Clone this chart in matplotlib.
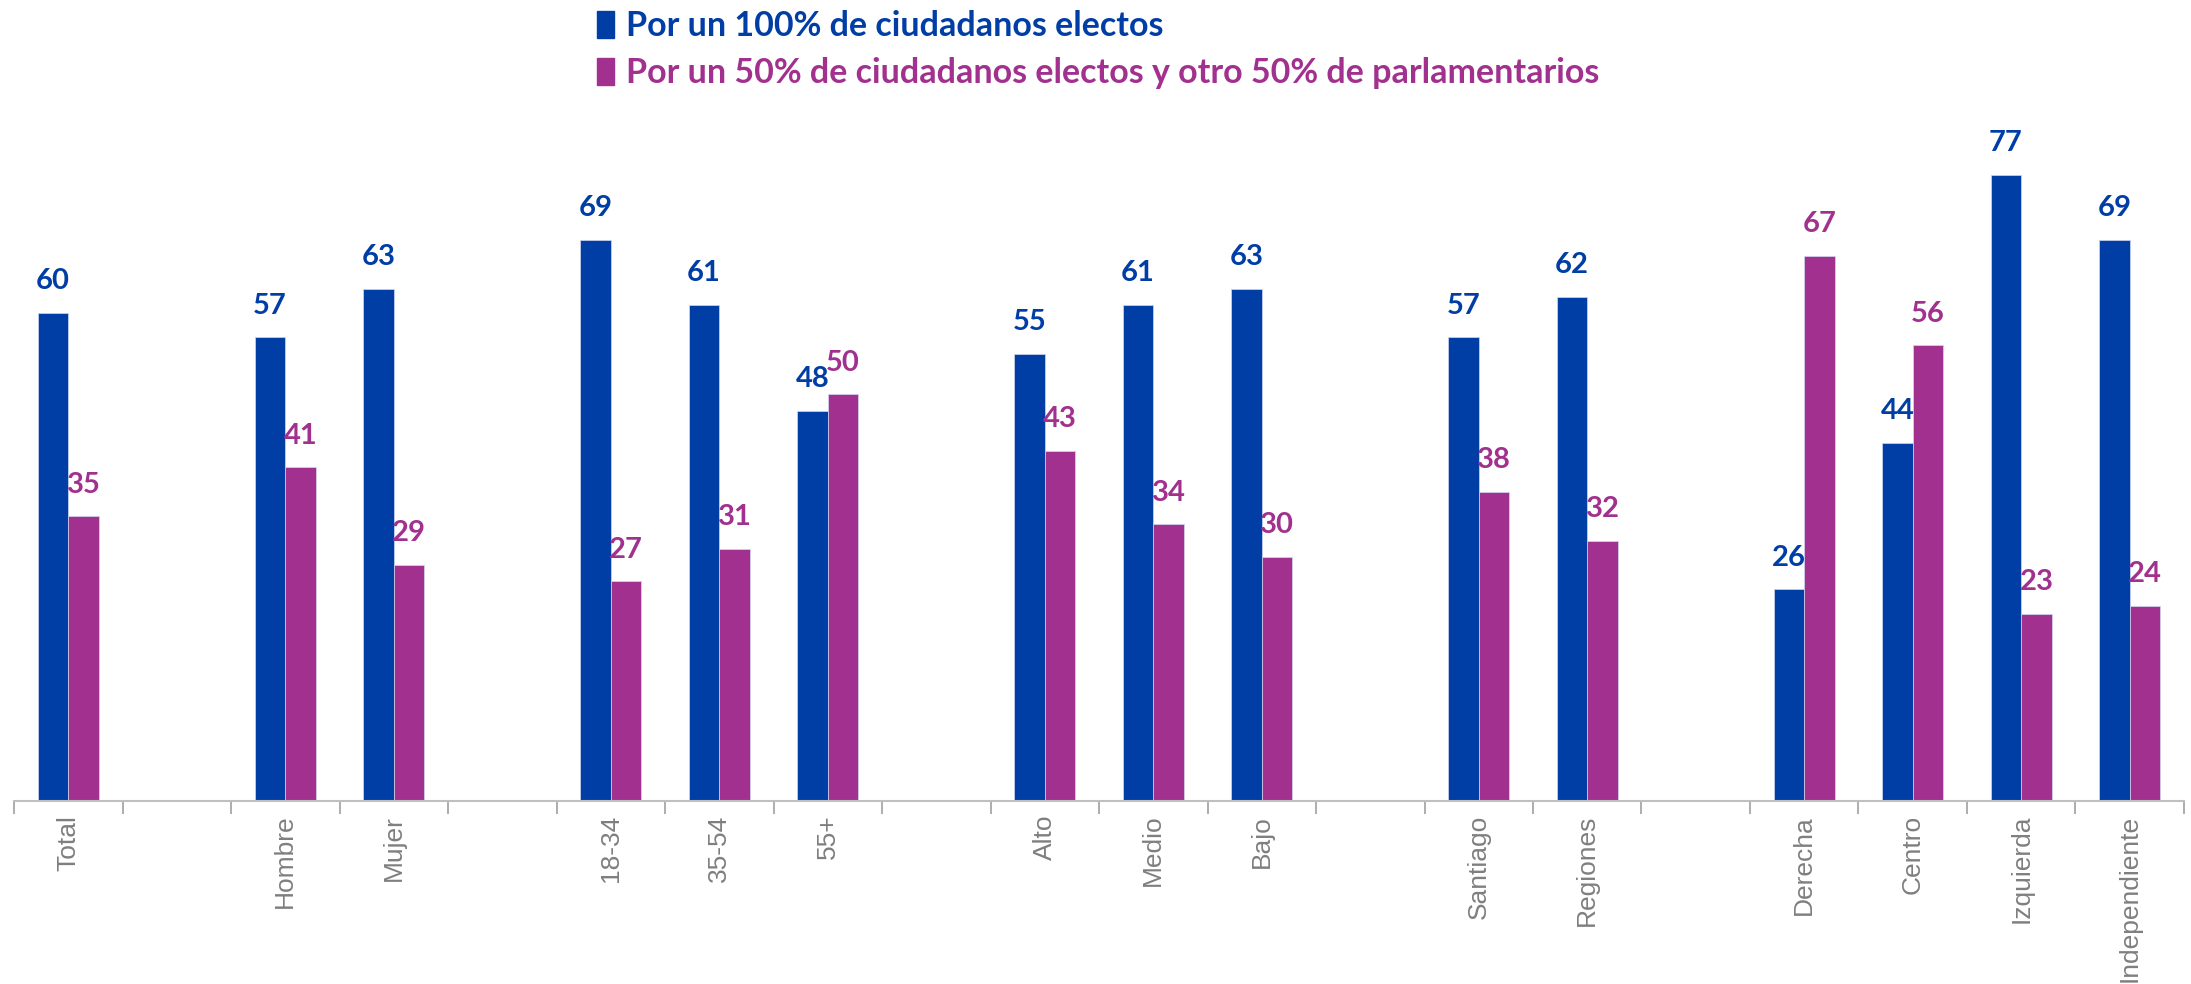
"""Recreación del gráfico de barras agrupadas (100% vs 50/50)."""

import numpy as np
import matplotlib
matplotlib.use("Agg")
import matplotlib.pyplot as plt
from matplotlib.patches import Patch

# categorías; "" = hueco entre grupos
categorias = ["Total", "", "Hombre", "Mujer", "", "18-34", "35-54", "55+", "",
              "Alto", "Medio", "Bajo", "", "Santiago", "Regiones", "",
              "Derecha", "Centro", "Izquierda", "Independiente"]
cien_pct = [60, None, 57, 63, None, 69, 61, 48, None, 55, 61, 63, None,
            57, 62, None, 26, 44, 77, 69]
mitad_pct = [35, None, 41, 29, None, 27, 31, 50, None, 43, 34, 30, None,
             38, 32, None, 67, 56, 23, 24]
series_labels = ["Por un 100% de ciudadanos electos",
                 "Por un 50% de ciudadanos electos y otro 50% de parlamentarios"]

AZUL = "#003EA6"
MORADO = "#A1308E"
GRIS = "#7F7F7F"

fig = plt.figure(figsize=(21.91, 9.84), dpi=100)
ax = fig.add_axes([0.0064, 0.186, 0.9904, 0.744])

x = np.arange(len(categorias))
w = 0.283
for vals, off, col in [(cien_pct, -w / 2, AZUL), (mitad_pct, w / 2, MORADO)]:
    idx = [i for i, v in enumerate(vals) if v is not None]
    h = [vals[i] for i in idx]
    ax.bar(x[idx] + off, h, width=w, color=col, edgecolor="#D0D8F0",
           linewidth=0.5)
    for i, v in zip(idx, h):
        ax.text(x[i] + off, v + 2.3, str(v), ha="center", va="bottom",
                color=col, fontsize=21, fontweight="bold", family="Lato")

ax.set_xlim(-0.5, len(categorias) - 0.5)
ax.set_ylim(0, 90)
ax.set_yticks([])
for s in ["top", "right", "left"]:
    ax.spines[s].set_visible(False)
ax.spines["bottom"].set_color("#BFBFBF")
ax.spines["bottom"].set_linewidth(1.5)

ax.set_xticks(x)
ax.set_xticklabels(categorias, rotation=90, color=GRIS, fontsize=19,
                   family="Liberation Sans", va="top")
ax.tick_params(axis="x", which="major", length=0, pad=10)
ax.set_xticks(np.arange(-0.5, len(categorias) - 0.4, 1), minor=True)
ax.tick_params(axis="x", which="minor", length=9, width=1.2, color="#A0A0A0")

handles = [Patch(color=AZUL), Patch(color=MORADO)]
leg = fig.legend(handles, series_labels, loc="upper left",
                 bbox_to_anchor=(0.2615, 1.014), frameon=False,
                 prop={"family": "Lato", "weight": "bold", "size": 24.5},
                 handlelength=0.5, handleheight=0.85, handletextpad=0.35,
                 labelspacing=0.45, borderpad=0.2)
for t, c in zip(leg.get_texts(), [AZUL, MORADO]):
    t.set_color(c)

fig.savefig("out.png", dpi=100)
